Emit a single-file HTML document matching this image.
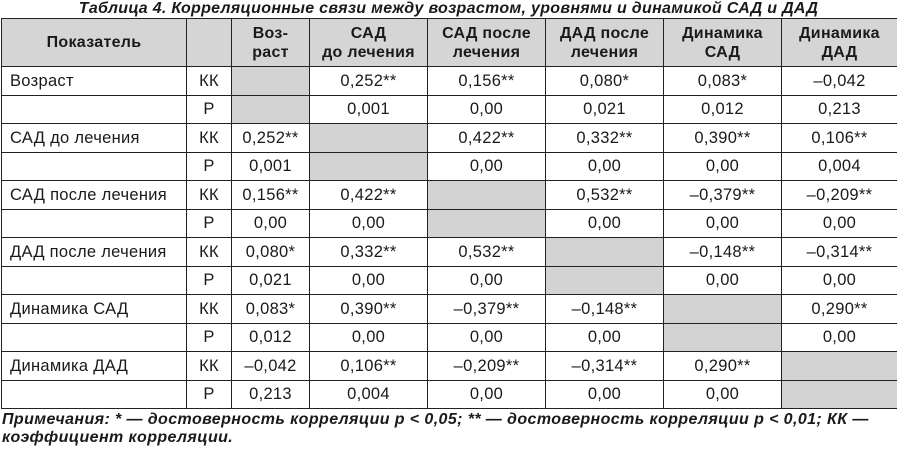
<!DOCTYPE html>
<html><head><meta charset="utf-8"><style>
body{margin:0;width:897px;height:450px;background:#fff;font-family:"Liberation Sans",Arial,sans-serif;color:#1a1a1a;position:relative;overflow:hidden}
.title{position:absolute;left:0;width:897px;top:0px;line-height:17px;text-align:center;font-weight:bold;font-style:italic;font-size:16px;letter-spacing:0.3px}
table{position:absolute;left:1px;top:18px;border-collapse:collapse;table-layout:fixed;width:896px}
td{border:1.5px solid #222;text-align:center;font-size:16.5px;padding:0;height:27.5px;line-height:18px;letter-spacing:0.3px}
tr.h td{background:#d5d5d5;font-weight:bold;height:47px;line-height:19px;font-size:16px}
td.l{text-align:left;padding-left:8px}
td.g{background:#d3d3d3}
.note{position:absolute;left:2px;top:411px;font-weight:bold;font-style:italic;font-size:16px;line-height:18px;letter-spacing:0.4px}
</style></head><body>
<div class="title">Таблица 4. Корреляционные связи между возрастом, уровнями и динамикой САД и ДАД</div>
<table>
<colgroup><col style="width:185px"><col style="width:45px"><col style="width:78px"><col style="width:118px"><col style="width:118px"><col style="width:118px"><col style="width:118px"><col style="width:116px"></colgroup>
<tr class="h"><td>Показатель</td><td></td><td>Воз-<br>раст</td><td>САД<br>до лечения</td><td>САД после<br>лечения</td><td>ДАД после<br>лечения</td><td>Динамика<br>САД</td><td>Динамика<br>ДАД</td></tr>
<tr><td class="l">Возраст</td><td>КК</td><td class="g"></td><td>0,252**</td><td>0,156**</td><td>0,080*</td><td>0,083*</td><td>–0,042</td></tr>
<tr><td></td><td>P</td><td class="g"></td><td>0,001</td><td>0,00</td><td>0,021</td><td>0,012</td><td>0,213</td></tr>
<tr><td class="l">САД до лечения</td><td>КК</td><td>0,252**</td><td class="g"></td><td>0,422**</td><td>0,332**</td><td>0,390**</td><td>0,106**</td></tr>
<tr><td></td><td>P</td><td>0,001</td><td class="g"></td><td>0,00</td><td>0,00</td><td>0,00</td><td>0,004</td></tr>
<tr><td class="l">САД после лечения</td><td>КК</td><td>0,156**</td><td>0,422**</td><td class="g"></td><td>0,532**</td><td>–0,379**</td><td>–0,209**</td></tr>
<tr><td></td><td>P</td><td>0,00</td><td>0,00</td><td class="g"></td><td>0,00</td><td>0,00</td><td>0,00</td></tr>
<tr><td class="l">ДАД после лечения</td><td>КК</td><td>0,080*</td><td>0,332**</td><td>0,532**</td><td class="g"></td><td>–0,148**</td><td>–0,314**</td></tr>
<tr><td></td><td>P</td><td>0,021</td><td>0,00</td><td>0,00</td><td class="g"></td><td>0,00</td><td>0,00</td></tr>
<tr><td class="l">Динамика САД</td><td>КК</td><td>0,083*</td><td>0,390**</td><td>–0,379**</td><td>–0,148**</td><td class="g"></td><td>0,290**</td></tr>
<tr><td></td><td>P</td><td>0,012</td><td>0,00</td><td>0,00</td><td>0,00</td><td class="g"></td><td>0,00</td></tr>
<tr><td class="l">Динамика ДАД</td><td>КК</td><td>–0,042</td><td>0,106**</td><td>–0,209**</td><td>–0,314**</td><td>0,290**</td><td class="g"></td></tr>
<tr><td></td><td>P</td><td>0,213</td><td>0,004</td><td>0,00</td><td>0,00</td><td>0,00</td><td class="g"></td></tr>
</table>
<div class="note">Примечания: * — достоверность корреляции p &lt; 0,05; ** — достоверность корреляции p &lt; 0,01; КК —<br>коэффициент корреляции.</div>
</body></html>
